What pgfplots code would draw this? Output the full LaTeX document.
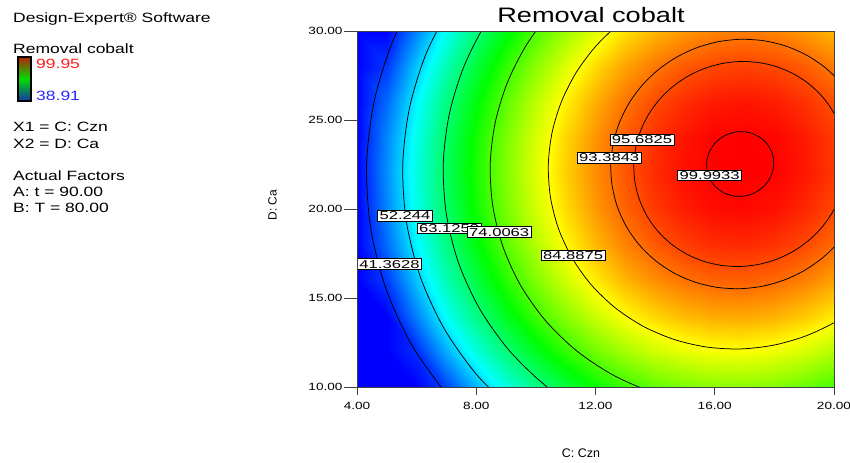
\documentclass[border=0pt]{standalone}
\usepackage{pgfplots}
\pgfplotsset{compat=1.18}
\usepackage{fontspec}
\setmainfont{Liberation Sans}
\newfontfamily\wide{Liberation Sans}[FakeStretch=1.3]
\newfontfamily\wideB{Liberation Sans}[FakeStretch=1.45]
\definecolor{lblred}{RGB}{255,30,30}
\definecolor{lblblue}{RGB}{40,40,255}
\definecolor{cbtop}{RGB}{180,35,5}
\definecolor{cbmid}{RGB}{0,220,0}
\definecolor{cbbot}{RGB}{20,50,170}
\tikzset{label node/.style={draw=black, line width=0.5bp, fill=white, inner xsep=2bp, inner ysep=1.2bp,
    font=\wideB\fontsize{11.5}{12}\selectfont, text height=8.2bp, text depth=0bp}}
\begin{document}
\begin{tikzpicture}
\path[use as bounding box] (0,0) rectangle (850bp,-463bp);
% left info block
\begin{scope}[every node/.style={anchor=base west, inner sep=0pt, font=\wide\fontsize{13.5}{15}\selectfont}]
\node at (13bp,-22.7bp) {Design-Expert® Software};
\node at (13bp,-53.3bp) {Removal cobalt};
\node[text=lblred] at (36bp,-68.3bp) {99.95};
\node[text=lblblue] at (36bp,-100bp) {38.91};
\node at (13bp,-131.7bp) {X1 = C: Czn};
\node at (13bp,-148bp) {X2 = D: Ca};
\node at (13bp,-180bp) {Actual Factors};
\node at (13bp,-196.5bp) {A: t = 90.00};
\node at (13bp,-212bp) {B: T = 80.00};
\end{scope}
\shade[top color=cbtop, bottom color=cbbot, middle color=cbmid] (18bp,-57bp) rectangle (31bp,-101bp);
\draw[black, line width=1.5bp] (18bp,-57bp) rectangle (31bp,-101bp);
% title and axis labels
\node[anchor=base, inner sep=0pt, font=\wide\fontsize{21}{24}\selectfont] at (591bp,-22.7bp) {Removal cobalt};
\node[anchor=base, inner sep=0pt, font=\fontsize{12.5}{14}\selectfont] at (581bp,-457bp) {C: Czn};
\node[anchor=base, rotate=90, inner sep=0pt, font=\fontsize{12}{14}\selectfont] at (276.5bp,-205bp) {D: Ca};
\begin{axis}[
  at={(357bp,-387bp)}, anchor=south west,
  scale only axis, width=477bp, height=356bp,
  xmin=4, xmax=20, ymin=10, ymax=30, enlargelimits=false,
  axis on top,
  colormap={de}{rgb255=(0,0,255) rgb255=(0,255,255) rgb255=(0,255,0) rgb255=(255,255,0) rgb255=(255,0,0)},
  point meta min=38.91, point meta max=99.95,
  xtick={4,8,12,16,20}, ytick={10,15,20,25,30},
  tick align=outside, xtick pos=left, ytick pos=left,
  major tick length=8bp,
  ytick style={/pgfplots/major tick length=13bp},
  axis line style={black!75, line width=0.8bp},
  tick style={black!75, line width=0.8bp},
  /pgf/number format/assume math mode=true,
  /pgf/number format/.cd, fixed, fixed zerofill, precision=2, /pgfplots/.cd,
  tick label style={font=\wide\fontsize{10.5}{12}\selectfont},
  xticklabel style={yshift=-4bp},
  yticklabel style={xshift=-3bp},
]
\addplot[surf, shader=interp, point meta=explicit, mesh/cols=17] coordinates {
(4,10)[17.80] (5,10)[26.93] (6,10)[35.31] (7,10)[42.94] (8,10)[49.81] (9,10)[55.93] (10,10)[61.29] (11,10)[65.91] (12,10)[69.77] (13,10)[72.87] (14,10)[75.23] (15,10)[76.83] (16,10)[77.68] (17,10)[77.77] (18,10)[77.12] (19,10)[75.71] (20,10)[73.55]

(4,12)[24.10] (5,12)[33.26] (6,12)[41.67] (7,12)[49.32] (8,12)[56.22] (9,12)[62.37] (10,12)[67.76] (11,12)[72.40] (12,12)[76.29] (13,12)[79.42] (14,12)[81.81] (15,12)[83.43] (16,12)[84.31] (17,12)[84.43] (18,12)[83.80] (19,12)[82.41] (20,12)[80.28]

(4,14)[29.26] (5,14)[38.45] (6,14)[46.88] (7,14)[54.57] (8,14)[61.49] (9,14)[67.67] (10,14)[73.08] (11,14)[77.76] (12,14)[81.67] (13,14)[84.83] (14,14)[87.24] (15,14)[88.89] (16,14)[89.80] (17,14)[89.94] (18,14)[89.34] (19,14)[87.98] (20,14)[85.88]

(4,16)[33.27] (5,16)[42.48] (6,16)[50.94] (7,16)[58.65] (8,16)[65.60] (9,16)[71.80] (10,16)[77.25] (11,16)[81.95] (12,16)[85.89] (13,16)[89.07] (14,16)[91.51] (15,16)[93.19] (16,16)[94.13] (17,16)[94.30] (18,16)[93.72] (19,16)[92.39] (20,16)[90.31]

(4,18)[36.11] (5,18)[45.35] (6,18)[53.84] (7,18)[61.57] (8,18)[68.55] (9,18)[74.78] (10,18)[80.25] (11,18)[84.98] (12,18)[88.95] (13,18)[92.16] (14,18)[94.62] (15,18)[96.33] (16,18)[97.29] (17,18)[97.49] (18,18)[96.94] (19,18)[95.64] (20,18)[93.59]

(4,20)[37.80] (5,20)[47.07] (6,20)[55.58] (7,20)[63.35] (8,20)[70.35] (9,20)[76.61] (10,20)[82.10] (11,20)[86.86] (12,20)[90.86] (13,20)[94.09] (14,20)[96.59] (15,20)[98.32] (16,20)[99.31] (17,20)[99.53] (18,20)[99.01] (19,20)[97.74] (20,20)[95.71]

(4,22)[38.33] (5,22)[47.62] (6,22)[56.17] (7,22)[63.96] (8,22)[70.99] (9,22)[77.28] (10,22)[82.80] (11,22)[87.58] (12,22)[91.60] (13,22)[94.87] (14,22)[97.39] (15,22)[99.15] (16,22)[100.17] (17,22)[100.42] (18,22)[99.92] (19,22)[98.67] (20,22)[96.68]

(4,24)[37.71] (5,24)[47.03] (6,24)[55.60] (7,24)[63.42] (8,24)[70.48] (9,24)[76.79] (10,24)[82.34] (11,24)[87.15] (12,24)[91.20] (13,24)[94.49] (14,24)[97.04] (15,24)[98.83] (16,24)[99.87] (17,24)[100.15] (18,24)[99.68] (19,24)[98.46] (20,24)[96.49]

(4,26)[35.94] (5,26)[45.28] (6,26)[53.88] (7,26)[61.73] (8,26)[68.81] (9,26)[75.15] (10,26)[80.73] (11,26)[85.57] (12,26)[89.64] (13,26)[92.96] (14,26)[95.54] (15,26)[97.35] (16,26)[98.42] (17,26)[98.73] (18,26)[98.28] (19,26)[97.09] (20,26)[95.15]

(4,28)[33.01] (5,28)[42.38] (6,28)[51.01] (7,28)[58.88] (8,28)[65.99] (9,28)[72.36] (10,28)[77.96] (11,28)[82.83] (12,28)[86.93] (13,28)[90.27] (14,28)[92.88] (15,28)[94.72] (16,28)[95.82] (17,28)[96.15] (18,28)[95.73] (19,28)[94.57] (20,28)[92.65]

(4,30)[28.92] (5,30)[38.32] (6,30)[46.97] (7,30)[54.87] (8,30)[62.01] (9,30)[68.41] (10,30)[74.04] (11,30)[78.93] (12,30)[83.06] (13,30)[86.43] (14,30)[89.06] (15,30)[90.93] (16,30)[92.05] (17,30)[92.41] (18,30)[92.03] (19,30)[90.89] (20,30)[89.00]
};
% contour lines
\addplot[black, line width=0.75bp, smooth] coordinates {(6.136,32.519) (5.187,29.383) (4.574,26.023) (4.323,22.528) (4.452,18.998) (4.967,15.544) (5.863,12.283) (7.115,9.334)};
\addplot[black, line width=0.75bp, smooth] coordinates {(7.173,31.552) (6.316,28.720) (5.762,25.685) (5.535,22.528) (5.652,19.340) (6.117,16.219) (6.926,13.274) (8.057,10.611) (9.472,8.326)};
\addplot[black, line width=0.75bp, smooth] coordinates {(9.330,32.721) (8.334,30.470) (7.580,27.977) (7.093,25.306) (6.893,22.528) (6.996,19.722) (7.405,16.976) (8.117,14.384) (9.112,12.040) (10.357,10.030) (11.809,8.423)};
\addplot[black, line width=0.75bp, smooth] coordinates {(11.538,32.752) (10.520,31.108) (9.682,29.213) (9.047,27.115) (8.637,24.867) (8.469,22.528) (8.555,20.166) (8.900,17.855) (9.499,15.673) (10.337,13.700) (11.385,12.008) (12.607,10.655) (13.958,9.687) (15.390,9.131)};
\addplot[black, line width=0.75bp, smooth] coordinates {(13.675,31.415) (12.774,30.375) (11.992,29.113) (11.349,27.659) (10.862,26.048) (10.547,24.323) (10.418,22.528) (10.484,20.716) (10.749,18.941) (11.209,17.267) (11.852,15.752) (12.656,14.454) (13.594,13.416) (14.631,12.673) (15.730,12.245) (16.852,12.138) (17.963,12.347) (19.032,12.855) (20.029,13.641) (20.931,14.681)};
\addplot[black, line width=0.75bp, smooth] coordinates {(21.190,22.528) (21.146,23.750) (20.967,24.946) (20.657,26.075) (20.223,27.097) (19.681,27.972) (19.049,28.672) (18.350,29.173) (17.609,29.461) (16.852,29.533) (16.103,29.393) (15.382,29.050) (14.710,28.520) (14.102,27.819) (13.575,26.968) (13.141,25.988) (12.813,24.902) (12.601,23.738) (12.514,22.528) (12.559,21.306) (12.737,20.110) (13.047,18.981) (13.481,17.960) (14.023,17.084) (14.655,16.384) (15.354,15.883) (16.095,15.595) (16.852,15.523) (17.601,15.663) (18.322,16.006) (18.994,16.536) (19.602,17.237) (20.129,18.088) (20.563,19.069) (20.891,20.154) (21.103,21.318) (21.190,22.528)};
\addplot[black, line width=0.75bp, smooth] coordinates {(20.418,22.528) (20.381,23.533) (20.234,24.516) (19.980,25.444) (19.623,26.283) (19.177,27.003) (18.658,27.578) (18.083,27.990) (17.474,28.227) (16.852,28.286) (16.236,28.170) (15.644,27.889) (15.091,27.453) (14.592,26.877) (14.159,26.178) (13.802,25.372) (13.532,24.479) (13.358,23.523) (13.286,22.528) (13.323,21.524) (13.470,20.540) (13.725,19.612) (14.081,18.773) (14.527,18.053) (15.046,17.478) (15.621,17.066) (16.230,16.829) (16.852,16.770) (17.468,16.886) (18.060,17.167) (18.613,17.603) (19.112,18.179) (19.545,18.878) (19.902,19.685) (20.172,20.577) (20.346,21.533) (20.418,22.528)};
\addplot[black, line width=0.75bp, smooth] coordinates {(17.978,22.528) (17.967,22.845) (17.920,23.156) (17.840,23.449) (17.727,23.714) (17.586,23.941) (17.422,24.123) (17.241,24.253) (17.049,24.328) (16.852,24.346) (16.658,24.310) (16.470,24.221) (16.296,24.083) (16.138,23.901) (16.001,23.681) (15.889,23.426) (15.804,23.144) (15.749,22.842) (15.726,22.528) (15.738,22.211) (15.784,21.900) (15.864,21.607) (15.977,21.342) (16.118,21.115) (16.282,20.933) (16.463,20.803) (16.656,20.728) (16.852,20.710) (17.047,20.746) (17.234,20.835) (17.408,20.973) (17.566,21.155) (17.703,21.375) (17.815,21.630) (17.901,21.912) (17.956,22.214) (17.978,22.528)};
% contour labels
\node[label node] at (axis cs:5.09,16.91) {41.3628};
\node[label node] at (axis cs:5.61,19.62) {52.244};
\node[label node] at (axis cs:7.09,18.93) {63.1253};
\node[label node] at (axis cs:8.77,18.71) {74.0063};
\node[label node] at (axis cs:11.25,17.40) {84.8875};
\node[label node] at (axis cs:12.46,22.88) {93.3843};
\node[label node] at (axis cs:13.56,23.90) {95.6825};
\node[label node] at (axis cs:15.83,21.89) {99.9933};
\end{axis}
\end{tikzpicture}
\end{document}
